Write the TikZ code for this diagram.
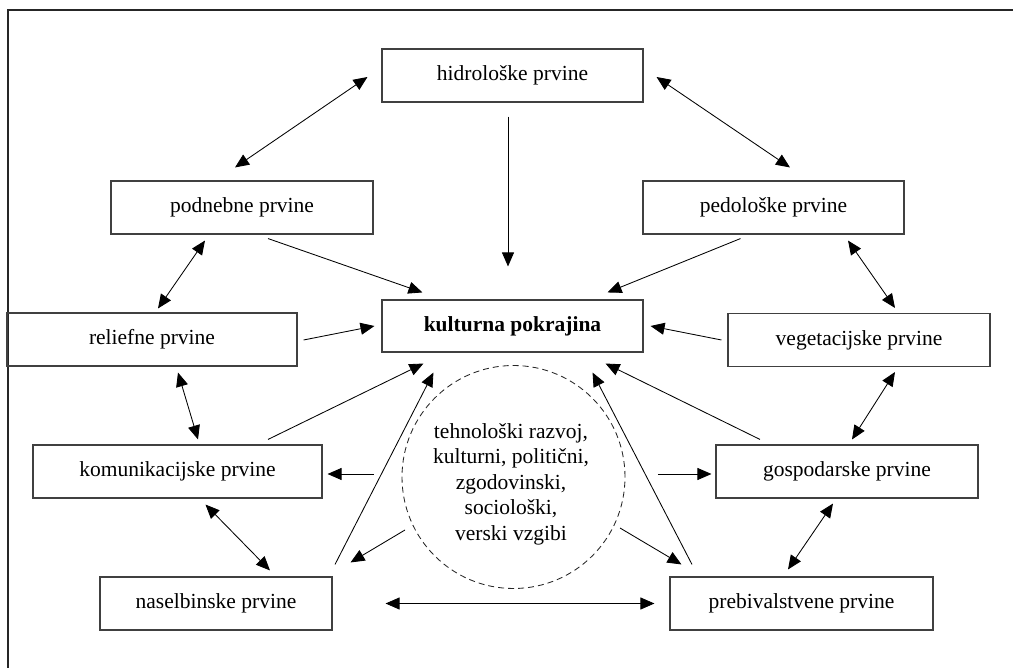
\documentclass[tikz,border=0pt]{standalone}
\usepackage{fontspec}
\setmainfont{Liberation Serif}
\usetikzlibrary{arrows.meta,calc}
\tikzset{
  box/.style={draw=black!75,line width=1.1pt,minimum height=53pt,inner sep=0pt,font=\fontsize{21.5}{25}\selectfont,anchor=center},
  arr/.style={line width=0.85pt,-{Triangle[length=14pt,width=12pt]}},
  darr/.style={line width=0.85pt,{Triangle[length=14pt,width=12pt]}-{Triangle[length=14pt,width=12pt]}},
  frame/.style={line width=1.1pt,draw=black!85}
}
\begin{document}
\begin{tikzpicture}[x=1pt,y=-1pt]
\useasboundingbox (0,0) rectangle (1013,668);
\draw[frame] (8,668) -- (8,10) -- (1013,10);

\node[box,minimum width=261pt] (hidro) at (512.5,75.5) {hidrološke prvine};
\node[box,minimum width=262pt] (podn) at (242,207.5) {podnebne prvine};
\node[box,minimum width=261pt] (pedo) at (773.5,207.5) {pedološke prvine};
\node[box,minimum width=290pt] (relief) at (152,339.5) {reliefne prvine};
\node[box,minimum width=261pt,minimum height=52pt,font=\fontsize{21.5}{25}\selectfont\bfseries] (kult) at (512.5,326) {kulturna pokrajina};
\node[box,minimum width=262pt] (veget) at (859,340) {vegetacijske prvine};
\node[box,minimum width=289pt] (komun) at (177.5,471.5) {komunikacijske prvine};
\node[box,minimum width=262pt] (gosp) at (847,471.5) {gospodarske prvine};
\node[box,minimum width=232pt] (nasel) at (216,603.5) {naselbinske prvine};
\node[box,minimum width=263pt] (preb) at (801.5,603.5) {prebivalstvene prvine};

\node[circle,draw=black!85,dash pattern=on 6pt off 4pt,line width=0.85pt,minimum size=223pt,inner sep=0pt] (ckr) at (513.5,477) {};
\node[align=center,font=\fontsize{21.5}{25.5}\selectfont] (ctext) at (511,484) {tehnološki razvoj,\\kulturni, politični,\\zgodovinski,\\sociološki,\\verski vzgibi};

% top ring
\draw[darr] ($(hidro.west)+(-14,1.5)$) -- ($(podn.north)+(-7,-13)$);
\draw[darr] ($(hidro.east)+(13,1.5)$) -- ($(pedo.north)+(16.5,-13)$);
\draw[arr] ($(hidro.south)+(-4.5,14)$) -- ($(kult.north)+(-4.5,-33)$);
\draw[arr] ($(podn.south)+(26,4)$) -- ($(kult.north west)+(41,-7)$);
\draw[arr] ($(pedo.south)+(-33,4)$) -- ($(kult.north east)+(-36,-7)$);
\draw[darr] ($(podn.south)+(-37,6)$) -- ($(relief.north)+(6,-4)$);
\draw[darr] ($(pedo.south)+(74.5,6)$) -- ($(veget.north)+(36,-5)$);
\draw[arr] ($(relief.east)+(6,0.5)$) -- ($(kult.west)+(-7,0)$);
\draw[arr] ($(veget.west)+(-6,0)$) -- ($(kult.east)+(7,0)$);
\draw[darr] ($(relief.south)+(26,6)$) -- ($(komun.north)+(20.5,-5)$);
\draw[darr] ($(veget.south)+(36,5)$) -- ($(gosp.north)+(5,-5)$);
\draw[arr] ($(komun.north)+(90.5,-5)$) -- ($(kult.south west)+(42,11)$);
\draw[arr] ($(gosp.north)+(-87,-5)$) -- ($(kult.south east)+(-38,11)$);
\draw[arr] ($(nasel.north)+(119,-12)$) -- ($(kult.south west)+(52,20)$);
\draw[arr] ($(preb.north)+(-109.5,-12)$) -- ($(kult.south east)+(-51,20)$);
% from circle
\draw[arr] ($(ckr.west)+(-28,-3)$) -- ($(komun.east)+(5,2.5)$);
\draw[arr] ($(ckr.east)+(32.5,-3)$) -- ($(gosp.west)+(-4,2.5)$);
\draw[arr] ($(ckr.center)+(-108.5,53)$) -- ($(nasel.north east)+(18,-14)$);
\draw[arr] ($(ckr.center)+(106.5,51)$) -- ($(preb.north west)+(12,-12)$);
% bottom ring
\draw[darr] ($(komun.south)+(28,6)$) -- ($(nasel.north)+(54,-6)$);
\draw[darr] ($(gosp.south)+(-14,5)$) -- ($(preb.north)+(-13.5,-7)$);
\draw[darr] ($(nasel.east)+(53,0)$) -- ($(preb.west)+(-15,0)$);
\end{tikzpicture}
\end{document}
